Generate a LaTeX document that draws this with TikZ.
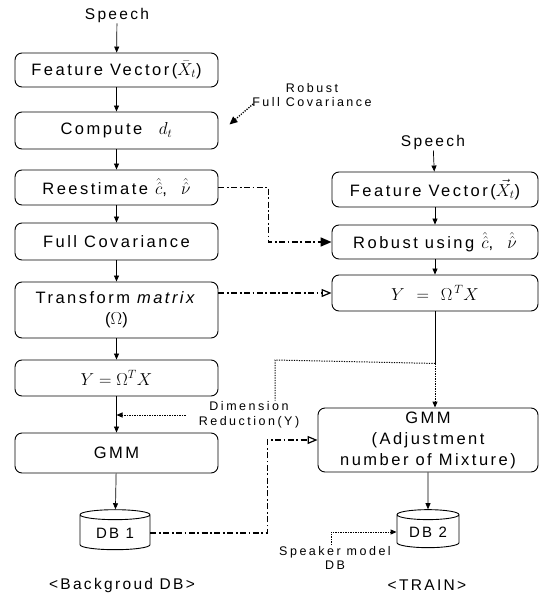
\documentclass[tikz,border=0pt]{standalone}
\usepackage{fontspec}
\setmainfont{Liberation Sans}
\newfontfamily\boxfont{Liberation Sans}[LetterSpace=15]
\newfontfamily\smallfont{Liberation Sans}[LetterSpace=20]
\usetikzlibrary{arrows.meta,shapes.geometric,calc}

\begin{document}
\begin{tikzpicture}[x=1pt,y=-1pt,
  every node/.style={inner sep=1pt},
  proc/.style={draw, line width=0.9pt, rounded corners=7pt, align=center,
    font=\boxfont\fontsize{16.5}{21}\selectfont},
  leftbox/.style={proc, minimum width=203},
  rightbox/.style={proc, minimum width=206},
  dbase/.style={draw, line width=0.9pt, cylinder, shape border rotate=90, aspect=0.25,
    font=\boxfont\fontsize{15}{18}\selectfont},
  lbl/.style={align=center, font=\boxfont\fontsize{15.5}{18}\selectfont},
  note/.style={align=center, font=\smallfont\fontsize{12.5}{14.5}\selectfont},
  flow/.style={line width=0.7pt, -{Triangle[length=6pt,width=5pt]}},
  dashdot/.style={line width=1.7pt, dash pattern=on 6pt off 2.5pt on 1.8pt off 2.5pt},
  dotline/.style={line width=1pt, dash pattern=on 1.2pt off 1.3pt},
  bigtip/.style={-{Triangle[length=11pt,width=9pt]}},
  opentip/.style={-{Triangle[open,length=10pt,width=8pt,line width=1.2pt]}},
  smalltip/.style={-{Triangle[length=6pt,width=5pt]}}
]
\useasboundingbox (0,0) rectangle (543,599);

% ---- background model branch ----
\node[lbl] (speechL) at (117,15) {Speech};
\node[leftbox, minimum height=34] (fvL) at (116.5,70) {Feature Vector($\bar{X}_t$)};
\node[leftbox, minimum height=37] (compute) at (116.5,130.5) {Compute\quad $d_t$};
\node[leftbox, minimum height=35] (reest) at (116.5,187.5) {Reestimate $\hat{\hat{c}}$,\ \ $\hat{\hat{\nu}}$};
\node[leftbox, minimum height=37] (fullcov) at (116.5,241.5) {Full Covariance};
\node[leftbox, minimum height=56] (transform) at (116.5,310) {Transform \textit{matrix}\\($\Omega$)};
\node[leftbox, minimum height=36] (yL) at (116.5,378) {$Y = \Omega^{T}X$};
\node[leftbox, minimum height=40] (gmmL) at (116.5,453) {GMM};
\node[dbase, minimum width=70, minimum height=40] (db1) at (115,533) {DB 1};
\node[lbl] (bgdb) at (122,585) {<Backgroud DB>};

\node[note] (robustlbl) at (312,95) {Robust\\Full Covariance};

% ---- training branch ----
\node[lbl] (speechR) at (433,142) {Speech};
\node[rightbox, minimum height=35] (fvR) at (435,189.5) {Feature Vector($\vec{X}_t$)};
\node[rightbox, minimum height=34] (robust) at (435,242) {Robust using $\hat{\hat{c}}$,\ \ $\hat{\hat{\nu}}$};
\node[rightbox, minimum height=36] (yR) at (435,293) {$Y\ =\ \Omega^{\,T}X$};
\node[proc, minimum width=220, minimum height=64] (gmmR) at (428,440) {GMM\\(Adjustment\\number of Mixture)};
\node[dbase, minimum width=62, minimum height=38] (db2) at (428,532) {DB 2};
\node[lbl] (train) at (427,585) {<TRAIN>};

\node[note] (dimlbl) at (249,415) {Dimension\\Reduction(Y)};
\node[note] (speaker) at (335,558) {Speaker model\\DB};

% ---- main flows ----
\draw[flow] (speechL) -- (fvL);
\draw[flow] (fvL) -- (compute);
\draw[flow] (compute) -- (reest);
\draw[flow] (reest) -- (fullcov);
\draw[flow] (fullcov) -- (transform);
\draw[flow] (transform) -- (yL);
\draw[flow] (yL) -- (gmmL);
\draw[flow] (gmmL) -- (db1);

\draw[flow] (speechR) -- (fvR);
\draw[flow] (fvR) -- (robust);
\draw[flow] (robust) -- (yR);
\coordinate (jn) at ($(yR.south)+(0,52)$);
\draw[line width=0.7pt] (yR.south) -- (jn);
\draw[dotline, smalltip] (jn) -- (jn |- gmmR.north);
\draw[flow] (gmmR) -- (db2);

% ---- cross links ----
\draw[dotline, line width=1.3pt, -{Triangle[length=8pt,width=7pt]}]
  ($(robustlbl.west)+(2,9)$) -- ($(compute.east)+(11,-6)$);
\draw[dashdot, bigtip] (reest.east) -- ++(50,0) |- (robust.west);
\draw[dashdot, opentip] (transform.east |- yR.west) -- (yR.west);
\draw[dashdot, opentip] (db1.east) -- ++(117,0) |- (gmmR.west);

\coordinate (dimtop) at (275,360);
\draw[dotline] (jn) -- (dimtop) -- (dimtop |- dimlbl.north);
\draw[dotline, smalltip] ([xshift=-12]dimlbl.west) -- (yL.south |- dimlbl.west);
\draw[dotline, smalltip] ([xshift=-4]speaker.north) |- (db2.west);
\end{tikzpicture}
\end{document}
